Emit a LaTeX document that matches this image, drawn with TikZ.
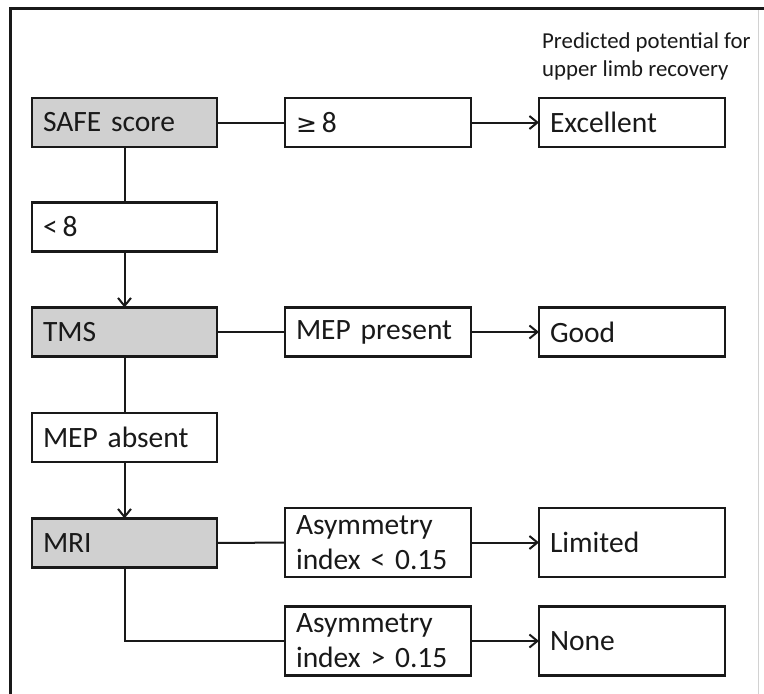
\documentclass[tikz,border=0pt]{standalone}
\usepackage{fontspec}
\setmainfont{Carlito}
\usetikzlibrary{arrows.meta}
\definecolor{boxgray}{RGB}{208,208,208}
\definecolor{ink}{RGB}{25,25,25}
\newcommand\myboxfont{\fontsize{29.5}{35}\selectfont\spaceskip=5pt plus 1.5pt\relax}
\tikzset{
  box/.style={draw=ink, line width=2.8pt, fill=white, text=ink, inner xsep=11pt, inner ysep=0pt,
    outer sep=0pt, align=left, anchor=center, font=\myboxfont},
  w1/.style={text width=163pt, minimum height=49pt},
  w2/.style={text width=164pt, minimum height=49pt},
  tall/.style={minimum height=69pt},
  shaded/.style={fill=boxgray},
  conn/.style={draw=ink, line width=2pt},
  arr/.style={conn, -{Straight Barb[length=8pt,width=13pt,line width=2pt]}},
}
\begin{document}
\begin{tikzpicture}[x=1pt,y=-1pt]
\useasboundingbox (0,0) rectangle (764,694);
\fill[white] (0,0) rectangle (764,694);
% frame
\draw[gray!35, line width=1pt] (758,8) -- (758,694);
\draw[ink, line width=3pt] (10,694) -- (10,8) -- (764,8);

\node[anchor=west, inner sep=0pt, align=left, text=ink, font=\fontsize{22.8}{28}\selectfont]
  (title) at (542,56) {Predicted potential for\\upper limb recovery};

% column 1
\node[box, w1, shaded] (safe) at (124.5,122.5) {SAFE score};
\node[box, w1] (lt8) at (124.5,227) {<\,8};
\node[box, w1, shaded] (tms) at (124.5,332) {TMS};
\node[box, w1] (mepa) at (124.5,437.5) {MEP absent};
\node[box, w1, shaded] (mri) at (124.5,543) {MRI};
% column 2
\node[box, w2] (ge8) at (378,122.5) {{\fontspec{DejaVu Sans}\fontsize{25}{35}\selectfont≥}\,8};
\node[box, w2] (mepp) at (378,332) {MEP present};
\node[box, w2, tall] (asyl) at (378,542.5) {Asymmetry\\index < 0.15};
\node[box, w2, tall] (asyg) at (378,641) {Asymmetry\\index > 0.15};
% column 3
\node[box, w2] (exc) at (632,122.5) {Excellent};
\node[box, w2] (good) at (632,332) {Good};
\node[box, w2, tall] (lim) at (632,542.5) {Limited};
\node[box, w2, tall] (none) at (632,641) {None};

% connectors
\draw[conn] (safe) -- (ge8);
\draw[arr] (ge8) -- (exc);
\draw[conn] (safe) -- (lt8);
\draw[arr] (lt8) -- (tms);
\draw[conn] (tms) -- (mepp);
\draw[arr] (mepp) -- (good);
\draw[conn] (tms) -- (mepa);
\draw[arr] (mepa) -- (mri);
\draw[conn] (mri) -- (asyl);
\draw[arr] (asyl) -- (lim);
\draw[conn] (mri.south) |- (asyg.west);
\draw[arr] (asyg) -- (none);
\end{tikzpicture}
\end{document}
